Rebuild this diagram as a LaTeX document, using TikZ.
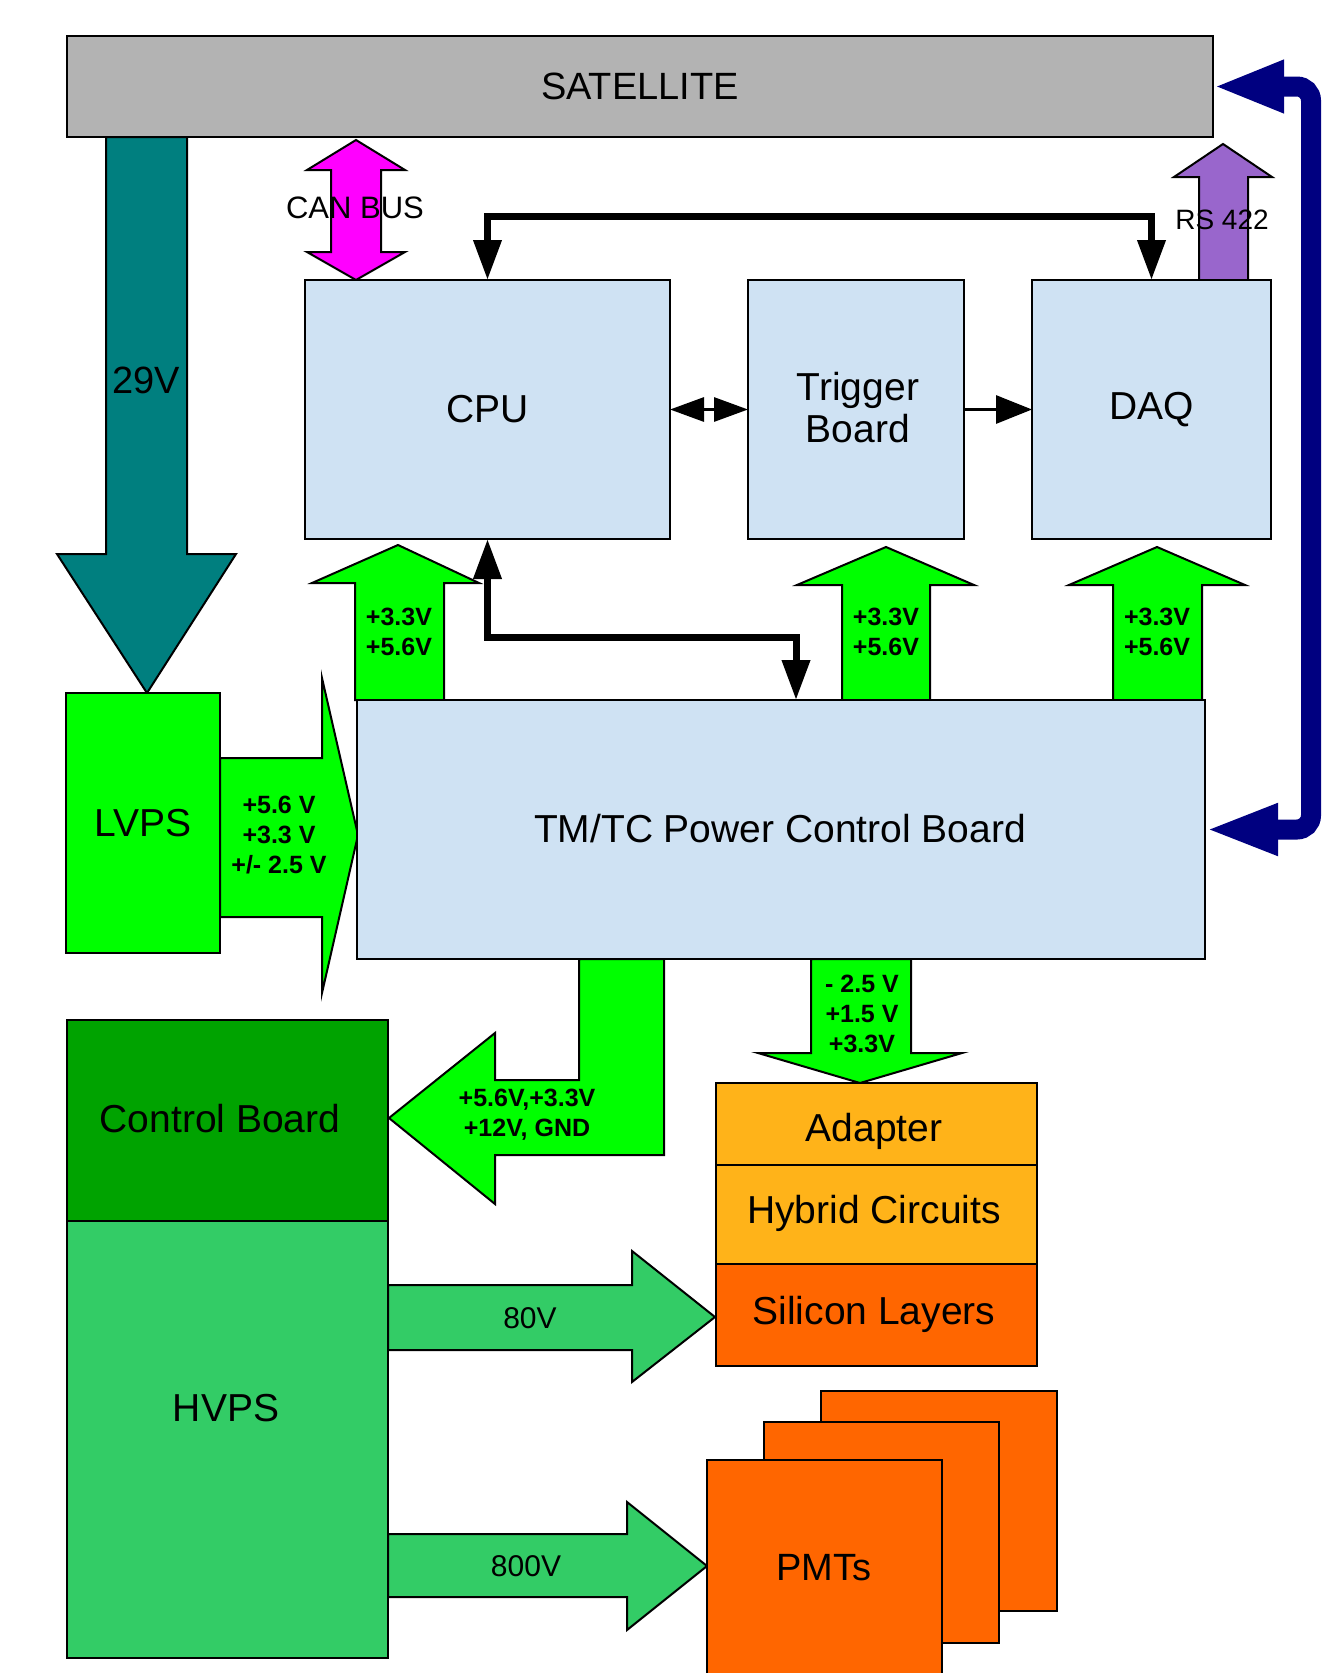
\documentclass[tikz,border=0pt]{standalone}
\usepackage{fontspec}
\setmainfont{Liberation Sans}
\usetikzlibrary{arrows.meta}
\definecolor{satgray}{HTML}{B3B3B3}
\definecolor{boxblue}{HTML}{CFE2F3}
\definecolor{tealc}{HTML}{007F7F}
\definecolor{canmag}{HTML}{FF00FF}
\definecolor{rspurple}{HTML}{9966CC}
\definecolor{navyc}{HTML}{000080}
\definecolor{pgreen}{HTML}{00FF00}
\definecolor{ctrlgreen}{HTML}{00A300}
\definecolor{hvgreen}{HTML}{33CC66}
\definecolor{ambr}{HTML}{FFB319}
\definecolor{orng}{HTML}{FF6600}
\begin{document}
\begin{tikzpicture}[x=1pt,y=-1pt,
  box/.style={draw=black, line width=2pt, inner sep=0pt, outer sep=0pt, align=center, font=\fontsize{39}{42}\selectfont},
  txt/.style={inner sep=0pt, font=\fontsize{39}{42}\selectfont},
  barrow/.style={draw=black, line width=2pt, line join=miter},
  vlab/.style={font=\fontsize{25}{30}\selectfont\bfseries, align=center, inner sep=0pt},
  rlab/.style={font=\fontsize{30}{34}\selectfont, inner sep=0pt},
  blk/.style={draw=black, line width=7pt, {Triangle[length=40pt,width=27pt]}-{Triangle[length=40pt,width=27pt]}},
  thinarr/.style={draw=black, line width=3pt},
  navyconn/.style={draw=navyc, line width=20pt, rounded corners=14pt,
     {Triangle[length=71pt,width=48pt]}-{Triangle[length=73pt,width=47pt]}}
]
\clip (0,0) rectangle (1325,1673);
\useasboundingbox (0,0) rectangle (1325,1673);
\fill[white] (0,0) rectangle (1325,1673);

% ---- block arrows (drawn under the boxes) ----
\draw[barrow, fill=tealc] (106,137) -- (106,554) -- (57,554) -- (147,693) -- (236,554) -- (187,554) -- (187,137) -- cycle;
\draw[barrow, fill=canmag] (356,140) -- (405,170) -- (381,170) -- (381,252) -- (405,252) -- (356,280)
  -- (307,252) -- (331,252) -- (331,170) -- (307,170) -- cycle;
\draw[barrow, fill=rspurple] (1199,280) -- (1199,177) -- (1174,177) -- (1223,144) -- (1272,177) -- (1248,177) -- (1248,280) -- cycle;
\draw[barrow, fill=pgreen] (355,700) -- (355,583) -- (312,583) -- (398,545) -- (479,583) -- (444,583) -- (444,700) -- cycle;
\draw[barrow, fill=pgreen] (842,700) -- (842,585) -- (797,585) -- (886,547) -- (974,585) -- (930,585) -- (930,700) -- cycle;
\draw[barrow, fill=pgreen] (1113,700) -- (1113,585) -- (1069,585) -- (1157,547) -- (1245,585) -- (1202,585) -- (1202,700) -- cycle;
\draw[barrow, fill=pgreen] (220,758) -- (322,758) -- (322,678) -- (358,835) -- (322,993) -- (322,917) -- (220,917) -- cycle;
\draw[barrow, fill=pgreen] (579,959) -- (579,1080) -- (495,1080) -- (495,1033) -- (389,1118) -- (495,1204)
  -- (495,1155) -- (664,1155) -- (664,959) -- cycle;
\draw[barrow, fill=pgreen] (811,959) -- (811,1053) -- (758,1053) -- (860,1083) -- (962,1053) -- (911,1053) -- (911,959) -- cycle;
\draw[barrow, fill=hvgreen] (388,1285) -- (632,1285) -- (632,1251) -- (715,1317) -- (632,1382) -- (632,1350) -- (388,1350) -- cycle;
\draw[barrow, fill=hvgreen] (388,1534) -- (627,1534) -- (627,1502) -- (707,1566) -- (627,1630) -- (627,1597) -- (388,1597) -- cycle;

% ---- boxes ----
\node[box, fill=satgray, minimum width=1146pt, minimum height=101pt, font=\fontsize{38}{42}\selectfont] (sat) at (640,86.5) {SATELLITE};
\node[box, fill=boxblue, minimum width=365pt, minimum height=259pt] (cpu) at (487.5,409.5) {CPU};
\node[box, fill=boxblue, minimum width=216pt, minimum height=259pt] (trig) at (856,409.5) {};
\node[box, fill=boxblue, minimum width=239pt, minimum height=259pt] (daq) at (1151.5,409.5) {DAQ};
\node[box, fill=boxblue, minimum width=848pt, minimum height=259pt] (tmtc) at (781,829.5) {};
\node[box, fill=pgreen, minimum width=154pt, minimum height=260pt] (lvps) at (143,823) {LVPS};
\node[box, fill=ctrlgreen, minimum width=321pt, minimum height=201pt] (ctrl) at (227.5,1120.5) {};
\node[box, fill=hvgreen, minimum width=321pt, minimum height=437pt] (hvps) at (227.5,1439.5) {};
\node[box, fill=ambr, minimum width=321pt, minimum height=82pt] (adapter) at (876.5,1124) {};
\node[box, fill=ambr, minimum width=321pt, minimum height=99pt] (hybrid) at (876.5,1214.5) {};
\node[box, fill=orng, minimum width=321pt, minimum height=102pt] (silicon) at (876.5,1315) {};
\node[box, fill=orng, minimum width=236pt, minimum height=220pt] (pmtc) at (939,1501) {};
\node[box, fill=orng, minimum width=235pt, minimum height=221pt] (pmtb) at (881.5,1532.5) {};
\node[box, fill=orng, minimum width=235pt, minimum height=250pt] (pmta) at (824.5,1585) {};

% ---- texts ----
\node[txt, align=center] (trigt) at (858,408) {Trigger\\Board};
\node[txt] (tmtct) at (780,829) {TM/TC Power Control Board};
\node[txt] (ctrlt) at (220,1119) {Control Board};
\node[txt] (adaptt) at (874,1131) {Adapter};
\node[txt] (hybt) at (874,1213) {Hybrid Circuits};
\node[txt] (silt) at (874,1314) {Silicon Layers};
\node[txt] (hvpst) at (226,1408) {HVPS};
\node[txt, font=\fontsize{38}{42}\selectfont] (pmtt) at (824,1568) {PMTs};
\node[txt, font=\fontsize{38}{42}\selectfont] (v29) at (146,380) {29V};
\node[inner sep=0pt, font=\fontsize{31}{34}\selectfont] (canbus) at (355,208) {CAN BUS};
\node[inner sep=0pt, font=\fontsize{28}{32}\selectfont] (rs) at (1222,220) {RS 422};
\node[vlab] (vcpu) at (399,632) {+3.3V\\+5.6V};
\node[vlab] (vtrig) at (886,632) {+3.3V\\+5.6V};
\node[vlab] (vdaq) at (1157,632) {+3.3V\\+5.6V};
\node[vlab] (vlvps) at (279,835) {+5.6 V\\+3.3 V\\+/- 2.5 V};
\node[vlab] (vctrl) at (527,1115) {+5.6V,+3.3V\\+12V, GND};
\node[vlab] (vadp) at (862,1014) {- 2.5 V\\+1.5 V\\+3.3V};
\node[rlab] (v80) at (530,1318) {80V};
\node[rlab] (v800) at (526,1566) {800V};

% ---- connectors ----
\coordinate (t1) at (487.5,216);
\coordinate (t2) at (1151.5,216);
\draw[blk] (cpu.north) -- (t1) -- (t2) -- (daq.north);
\coordinate (b1) at (487.5,637);
\coordinate (b2) at (796,637);
\draw[blk] (cpu.south) -- (b1) -- (b2) -- (b2 |- tmtc.north);
\draw[thinarr, {Triangle[length=34pt,width=24pt]}-{Triangle[length=34pt,width=24pt]}] (cpu.east) -- (trig.west);
\draw[thinarr, -{Triangle[length=36pt,width=28pt]}] (trig.east) -- (daq.west);
\coordinate (n1) at (1311,86.5);
\coordinate (n2) at (1311,829.5);
\draw[navyconn] (sat.east) -- (n1) -- (n2) -- (tmtc.east);
\end{tikzpicture}
\end{document}
